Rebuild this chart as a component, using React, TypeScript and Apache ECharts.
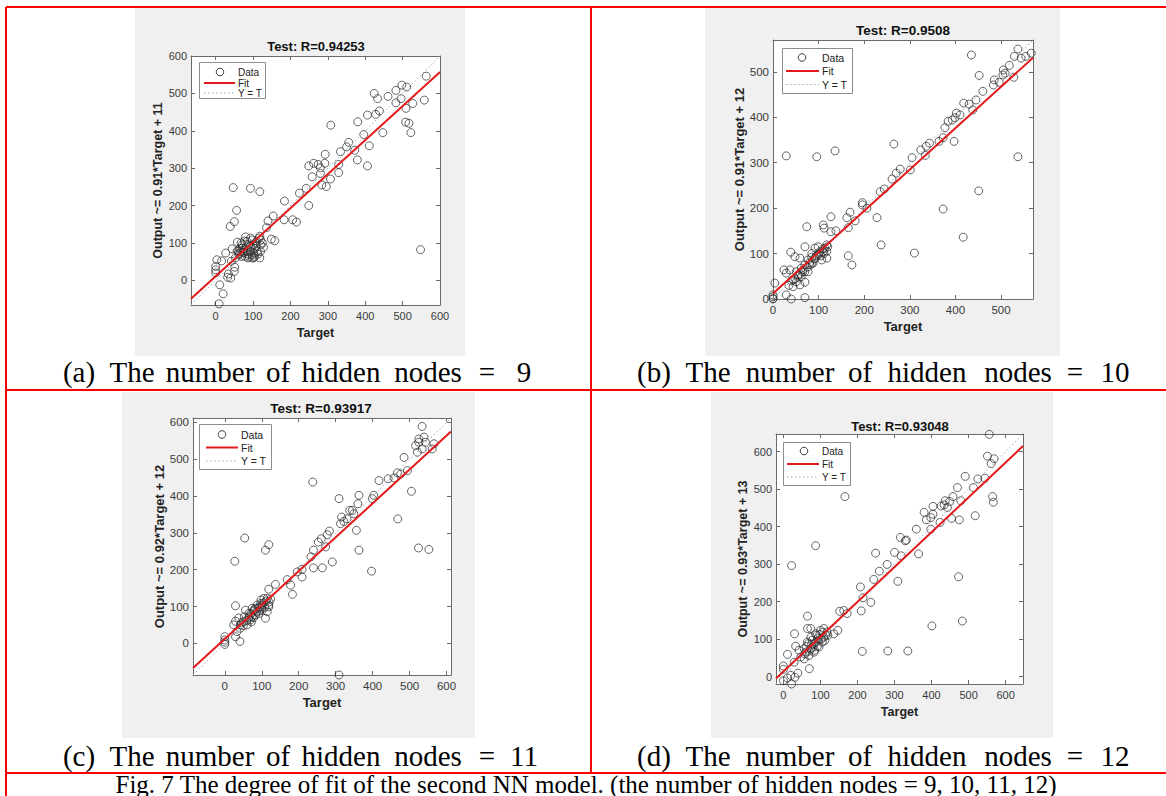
import React, { useEffect, useRef } from "react";
import * as echarts from "echarts";

// ---------------- data ----------------
const panelTitles = ["Test: R=0.94253", "Test: R=0.9508", "Test: R=0.93917", "Test: R=0.93048"];
const yAxisNames = [
  "Output ~= 0.91*Target + 11",
  "Output ~= 0.91*Target + 12",
  "Output ~= 0.92*Target + 12",
  "Output ~= 0.93*Target + 13",
];
const xAxisName = "Target";
const fitSlopes = [0.91, 0.91, 0.92, 0.93];
const fitIntercepts = [11, 12, 12, 13];
const axisMins = [-66, 0, -86, -20];
const axisMaxs = [600, 570, 612, 647];
const legendLabels = ["Data", "Fit", "Y = T"];
const captionLetters = ["(a)", "(b)", "(c)", "(d)"];
const captionWords = ["The", "number", "of", "hidden", "nodes", "="];
const hiddenNodes = ["9", "10", "11", "12"];
const figCaption =
  "Fig. 7 The degree of fit of the second NN model. (the number of hidden nodes = 9, 10, 11, 12)";

const pointsA = [
  [555, 602], [563, 546], [558, 482], [548, 82], [522, 395], [517, 420], [508, 423], [527, 473],
  [509, 460], [511, 517], [498, 522], [496, 486], [482, 508], [482, 475], [461, 492], [447, 395],
  [438, 453], [428, 444], [424, 500], [433, 486], [406, 442], [411, 360], [406, 306], [396, 390],
  [380, 424], [379, 322], [372, 348], [356, 369], [350, 357], [334, 344], [329, 310], [329, 288],
  [308, 415], [307, 271], [296, 251], [284, 255], [293, 337], [292, 313], [280, 301], [280, 286],
  [274, 310], [262, 313], [249, 306], [258, 277], [242, 246], [249, 200], [224, 233], [216, 156],
  [206, 162], [183, 162], [184, 212], [154, 172], [140, 159], [136, 141], [149, 110], [158, 106],
  [118, 237], [93, 246], [47, 248], [56, 187], [50, 157], [39, 144], [27, 73], [16, 52], [3, 55],
  [0, 28], [0, 20], [0, 37], [11, -12], [20, -36], [9, -63], [34, 17], [32, 8], [40, 6], [50, 24],
  [51, 35], [42, 51], [44, 84], [58, 102], [62, 68], [71, 86], [80, 116], [71, 95], [84, 77],
  [93, 91], [98, 60], [107, 100], [116, 113], [120, 108], [118, 60], [128, 88], [86, 60], [102, 73],
  [53, 60], [60, 79], [69, 64], [78, 64], [84, 104], [98, 108], [111, 77], [108, 91], [76, 73],
  [93, 113], [120, 95], [120, 77], [102, 60], [67, 77], [93, 77], [65, 85], [75, 80], [88, 70],
  [95, 85], [100, 95], [105, 85], [113, 70], [88, 95], [72, 75], [82, 90], [97, 68], [110, 105],
  [64, 72], [90, 62], [104, 64], [118, 118], [77, 105], [125, 100], [57, 78], [68, 100],
];

const pointsB = [
  [568, 571], [566, 541], [554, 534], [544, 530], [537, 550], [529, 534], [537, 313], [528, 488],
  [518, 514], [509, 497], [505, 504], [504, 493], [496, 477], [485, 482], [483, 471], [460, 457],
  [452, 492], [435, 537], [451, 238], [445, 438], [438, 416], [430, 429], [418, 431], [417, 136],
  [410, 405], [402, 409], [399, 399], [397, 347], [393, 394], [384, 391], [377, 377], [373, 355],
  [373, 198], [364, 347], [343, 343], [336, 336], [334, 316], [324, 328], [310, 101], [305, 311],
  [301, 284], [279, 286], [270, 277], [265, 341], [261, 264], [244, 242], [235, 236], [237, 119],
  [228, 179], [206, 200], [196, 207], [196, 212], [180, 172], [173, 75], [165, 95], [165, 157],
  [162, 179], [169, 191], [138, 150], [127, 148], [136, 326], [127, 181], [112, 156], [110, 163],
  [96, 313], [29, 315], [74, 159], [70, 115], [39, 103], [24, 64], [29, 57], [4, 35], [0, 9],
  [0, 1], [0, 5], [0, 0], [40, 0], [70, 3], [70, 37], [29, 9], [48, 93], [37, 64], [44, 42],
  [55, 53], [62, 68], [59, 90], [70, 75], [77, 86], [85, 100], [92, 112], [99, 115], [103, 104],
  [110, 104], [118, 119], [118, 90], [107, 86], [88, 79], [81, 75], [70, 60], [62, 49], [51, 38],
  [85, 92], [99, 97], [114, 112], [51, 60], [66, 64], [77, 60], [59, 31], [44, 27], [80, 80],
  [90, 88], [95, 95], [100, 100], [105, 95], [112, 100], [118, 105], [60, 55], [65, 60], [75, 70],
  [85, 78], [92, 90], [110, 110], [120, 115], [55, 50], [48, 45], [40, 40], [35, 30],
];

const pointsC = [
  [507, 614], [534, 589], [566, 542], [561, 528], [539, 560], [543, 546], [525, 555], [516, 537],
  [521, 519], [534, 528], [525, 546], [485, 505], [505, 413], [494, 469], [476, 460], [467, 463],
  [458, 449], [468, 338], [524, 259], [552, 255], [442, 447], [417, 442], [403, 402], [399, 393],
  [397, 196], [363, 402], [360, 379], [356, 307], [363, 253], [349, 352], [345, 361], [338, 361],
  [331, 338], [322, 331], [316, 343], [313, 325], [309, 393], [309, -86], [291, 221], [283, 305],
  [277, 295], [273, 262], [264, 205], [261, 284], [253, 275], [240, 205], [238, 438], [240, 253],
  [233, 235], [209, 180], [209, 201], [196, 194], [183, 133], [178, 158], [169, 173], [137, 160],
  [119, 268], [110, 253], [119, 147], [54, 286], [27, 223], [29, 102], [41, 5], [29, 18], [0, 18],
  [0, 9], [0, -3], [0, 3], [29, 60], [24, 50], [38, 69], [42, 50], [53, 72], [60, 50], [65, 81],
  [74, 95], [83, 77], [88, 104], [97, 108], [106, 122], [115, 122], [119, 104], [119, 99], [110, 68],
  [101, 90], [79, 88], [65, 68], [56, 90], [51, 59], [74, 72], [92, 81], [83, 95], [101, 104],
  [69, 63], [42, 41], [33, 32], [115, 86], [70, 80], [78, 70], [86, 85], [90, 95], [95, 100],
  [100, 96], [105, 110], [112, 115], [60, 62], [66, 72], [50, 48], [45, 56], [80, 92], [108, 98],
  [94, 88], [72, 58], [120, 112], [124, 120], [98, 118],
];

const pointsD = [
  [556, 646], [551, 588], [569, 581], [561, 568], [565, 480], [567, 465], [544, 529], [525, 527],
  [513, 504], [518, 429], [491, 534], [470, 504], [479, 469], [475, 418], [473, 266], [483, 148],
  [458, 480], [449, 467], [443, 451], [454, 422], [437, 469], [434, 458], [426, 455], [423, 411],
  [404, 454], [404, 433], [398, 424], [398, 393], [401, 135], [380, 438], [386, 418], [359, 393],
  [365, 327], [332, 364], [329, 362], [316, 371], [318, 322], [300, 331], [309, 254], [336, 68],
  [282, 68], [280, 299], [259, 281], [249, 329], [244, 259], [236, 198], [215, 210], [210, 175],
  [208, 239], [213, 67], [172, 168], [163, 176], [152, 174], [166, 480], [147, 123], [136, 114],
  [87, 349], [22, 296], [65, 161], [30, 114], [33, 81], [11, 59], [0, 28], [0, 19], [0, -11],
  [11, -4], [22, -20], [31, -2], [39, 9], [70, 21], [20, 3], [29, 38], [47, 52], [42, 70], [56, 74],
  [65, 92], [74, 105], [74, 74], [83, 88], [87, 114], [92, 101], [100, 123], [109, 128], [114, 110],
  [118, 119], [105, 92], [96, 79], [83, 65], [69, 56], [56, 47], [74, 128], [65, 128], [92, 81],
  [109, 105], [78, 97], [60, 65], [80, 78], [88, 92], [95, 96], [102, 100], [70, 68], [62, 80],
  [98, 112], [106, 118], [84, 70], [90, 110], [76, 86], [112, 96], [120, 110], [68, 88], [58, 60],
];

const panelPoints = [pointsA, pointsB, pointsC, pointsD];

// ---------------- layout (positions & styles only) ----------------
const W = 1166;
const H = 796;
const grids = [
  { left: 191, top: 56, width: 249, height: 249 },
  { left: 773, top: 40, width: 260, height: 259 },
  { left: 193, top: 418, width: 258, height: 257 },
  { left: 776, top: 434, width: 247, height: 250 },
];
const figBgs = [
  { x: 135, y: 8, w: 330, h: 348 },
  { x: 705, y: 8, w: 355, h: 348 },
  { x: 122, y: 392, w: 353, h: 346 },
  { x: 711, y: 392, w: 342, h: 346 },
];
const titlePos = [
  [316, 46],
  [903, 30],
  [321, 408],
  [900, 426],
];
const legendLayout = [
  { x: 199, y: 62, w: 66, h: 36, rows: [72, 83, 93], cx: 220, lx1: 204, lx2: 235, tx: 238, fs: 10 },
  { x: 782, y: 48, w: 70, h: 45, rows: [57.5, 71, 84.5], cx: 802, lx1: 786, lx2: 819, tx: 822, fs: 10.5 },
  { x: 199, y: 424, w: 72, h: 45, rows: [434.5, 447.5, 461], cx: 222, lx1: 206, lx2: 238, tx: 241, fs: 10.5 },
  { x: 783, y: 442, w: 67, h: 43, rows: [451, 464, 477], cx: 804, lx1: 787, lx2: 819, tx: 822, fs: 10 },
];
const captionCentersLeft = [79, 132, 210, 278, 341, 428, 487, 524];
const captionCentersRight = [654, 708, 790, 860, 927, 1018, 1075, 1115];
const captionY = [372, 372, 756, 756];

const SANS = '"Liberation Sans", Arial, Helvetica, sans-serif';
const SERIF = '"Times New Roman", "Liberation Serif", serif';
const RED = "#ff0000";
const FIT_RED = "#e31a1c";
const DIAG = "#9aaabb";
const AXIS = "#6a6a6a";

function tickFormatter(v: number) {
  return Math.abs(v % 100) < 1e-6 ? String(Math.round(v)) : "";
}

function buildOption() {
  const xAxis: any[] = [];
  const yAxis: any[] = [];
  const series: any[] = [];
  const graphic: any[] = [];

  // table lines
  const redLines = [
    [6, 7, W, 7],
    [6, 7, 6, H],
    [591, 7, 591, 773],
    [6, 390, W, 390],
    [6, 773, W, 773],
  ];
  redLines.forEach(([x1, y1, x2, y2]) =>
    graphic.push({ type: "line", z: -3, shape: { x1, y1, x2, y2 }, style: { stroke: RED, lineWidth: 2 } })
  );
  figBgs.forEach((b) =>
    graphic.push({ type: "rect", z: -2, shape: { x: b.x, y: b.y, width: b.w, height: b.h }, style: { fill: "#f0f0f0" } })
  );

  const grid = grids.map((g) => ({
    ...g,
    show: true,
    backgroundColor: "#ffffff",
    borderWidth: 0,
    containLabel: false,
    outerBoundsMode: "none",
  }));

  for (let i = 0; i < 4; i++) {
    const base = {
      type: "value",
      gridIndex: i,
      min: axisMins[i],
      max: axisMaxs[i],
      minInterval: 100,
      maxInterval: 100,
      splitNumber: 6,
      splitLine: { show: false },
      axisLine: { show: true, onZero: false, lineStyle: { color: AXIS, width: 1 } },
      axisTick: { show: true, inside: true, length: 4, lineStyle: { color: AXIS, width: 1 } },
    };
    const fsTick = i === 1 || i === 2 ? 11.5 : 11;
    const fsName = i === 1 || i === 2 ? 13 : 12.5;
    xAxis.push({
      ...base,
      position: "bottom",
      axisLabel: { show: true, margin: 5, fontSize: fsTick, color: "#3a3a3a", fontFamily: SANS, formatter: tickFormatter },
      name: xAxisName,
      nameLocation: "middle",
      nameGap: 21,
      nameTextStyle: { fontSize: fsName, fontWeight: "bold", color: "#222", fontFamily: SANS },
    });
    xAxis.push({ ...base, position: "top", axisLabel: { show: false } });
    yAxis.push({
      ...base,
      position: "left",
      axisLabel: { show: true, margin: 4, fontSize: fsTick, color: "#3a3a3a", fontFamily: SANS, formatter: tickFormatter },
      name: yAxisNames[i],
      nameLocation: "middle",
      nameGap: 25,
      nameRotate: 90,
      nameTextStyle: { fontSize: fsName, fontWeight: "bold", color: "#222", fontFamily: SANS },
    });
    yAxis.push({ ...base, position: "right", axisLabel: { show: false } });

    const lo = axisMins[i];
    const hi = axisMaxs[i];
    series.push({
      type: "scatter",
      xAxisIndex: 2 * i,
      yAxisIndex: 2 * i,
      data: panelPoints[i],
      symbol: "circle",
      symbolSize: 8,
      itemStyle: { color: "rgba(0,0,0,0)", borderColor: "#2a2a2a", borderWidth: 0.9 },
      silent: true,
      z: 2,
    });
    series.push({
      type: "line",
      xAxisIndex: 2 * i,
      yAxisIndex: 2 * i,
      data: [
        [lo, lo],
        [hi, hi],
      ],
      showSymbol: false,
      symbol: "none",
      lineStyle: { color: DIAG, width: 1, type: [1.5, 2.5] },
      silent: true,
      z: 3,
    });
    series.push({
      type: "line",
      xAxisIndex: 2 * i,
      yAxisIndex: 2 * i,
      data: [
        [lo, fitSlopes[i] * lo + fitIntercepts[i]],
        [hi, fitSlopes[i] * hi + fitIntercepts[i]],
      ],
      showSymbol: false,
      symbol: "none",
      lineStyle: { color: FIT_RED, width: 2 },
      silent: true,
      z: 4,
    });

    // title
    graphic.push({
      type: "text",
      z: 10,
      x: titlePos[i][0],
      y: titlePos[i][1],
      style: {
        text: panelTitles[i],
        fontSize: i === 1 || i === 2 ? 13.5 : 13,
        fontWeight: "bold",
        fontFamily: SANS,
        fill: "#111",
        align: "center",
        verticalAlign: "middle",
      },
    });

    // legend
    const L = legendLayout[i];
    graphic.push({
      type: "rect",
      z: 10,
      shape: { x: L.x + 0.5, y: L.y + 0.5, width: L.w, height: L.h },
      style: { fill: "#ffffff", stroke: "#8c8c8c", lineWidth: 1 },
    });
    graphic.push({
      type: "circle",
      z: 11,
      shape: { cx: L.cx, cy: L.rows[0], r: 3.8 },
      style: { fill: "none", stroke: "#2a2a2a", lineWidth: 0.9 },
    });
    graphic.push({
      type: "line",
      z: 11,
      shape: { x1: L.lx1, y1: L.rows[1], x2: L.lx2, y2: L.rows[1] },
      style: { stroke: FIT_RED, lineWidth: 2 },
    });
    graphic.push({
      type: "line",
      z: 11,
      shape: { x1: L.lx1, y1: L.rows[2], x2: L.lx2, y2: L.rows[2] },
      style: { stroke: DIAG, lineWidth: 1, lineDash: [1.5, 2.5] },
    });
    legendLabels.forEach((lab, k) =>
      graphic.push({
        type: "text",
        z: 11,
        x: L.tx,
        y: L.rows[k],
        style: { text: lab, fontSize: L.fs, fontFamily: SANS, fill: "#222", align: "left", verticalAlign: "middle" },
      })
    );

    // caption
    const centers = i % 2 === 0 ? captionCentersLeft : captionCentersRight;
    const words = [captionLetters[i], ...captionWords, hiddenNodes[i]];
    words.forEach((w, k) =>
      graphic.push({
        type: "text",
        z: 10,
        x: centers[k],
        y: captionY[i],
        style: { text: w, fontSize: 29, fontFamily: SERIF, fill: "#000", align: "center", verticalAlign: "middle" },
      })
    );
  }

  graphic.push({
    type: "text",
    z: 10,
    x: 586,
    y: 784,
    style: { text: figCaption, fontSize: 25, fontFamily: SERIF, fill: "#000", align: "center", verticalAlign: "middle" },
  });

  return {
    animation: false,
    backgroundColor: "#ffffff",
    grid,
    xAxis,
    yAxis,
    series,
    graphic: { elements: graphic },
  };
}

export default function App() {
  const ref = useRef<HTMLDivElement>(null);
  useEffect(() => {
    if (!ref.current) return;
    const chart = echarts.init(ref.current, null, { renderer: "svg", width: W, height: H });
    chart.setOption(buildOption() as any);
    return () => chart.dispose();
  }, []);
  return (
    <div
      ref={ref}
      style={{ position: "absolute", left: 0, top: 0, width: W, height: H, background: "#ffffff" }}
    />
  );
}
